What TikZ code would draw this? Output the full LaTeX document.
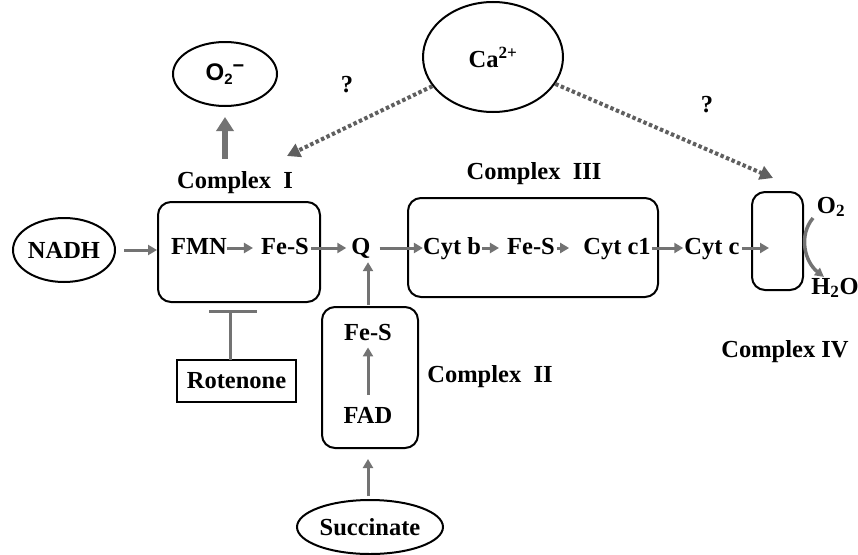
\documentclass[tikz,border=0pt]{standalone}
\usepackage{fontspec}
\setmainfont{Liberation Serif}
\setsansfont{Liberation Sans}
\usetikzlibrary{arrows.meta,shapes.geometric}
\definecolor{agray}{RGB}{115,115,115}
\definecolor{dgray}{RGB}{95,95,95}
\tikzset{
  txt/.style={inner sep=0pt, font=\fontsize{24.5}{28}\selectfont\bfseries},
  inl/.style={txt, anchor=base, text height=17pt, text depth=5pt},
  box/.style={draw, line width=2pt, rounded corners=13pt},
  oval/.style={draw, ellipse, line width=2pt, inner sep=0pt},
  arr/.style={draw=agray, line width=3pt, -{Triangle[length=9pt,width=10pt]}},
  dotarr/.style={draw=dgray, line width=4pt, dash pattern=on 3.5pt off 2.5pt, -{Triangle[length=13pt,width=14pt]}},
  bigarr/.style={draw=agray, line width=6pt, -{Triangle[length=14pt,width=17pt]}},
}
\begin{document}
\begin{tikzpicture}[x=1pt,y=-1pt]
\useasboundingbox (0,0) rectangle (858,554);
% ovals
\node[oval, minimum width=102pt, minimum height=64pt, txt] (nadh) at (64,250) {NADH};
\node[oval, minimum width=104pt, minimum height=64pt] (o2m) at (225,74)
  {\sffamily\bfseries\fontsize{24}{28}\selectfont O\raisebox{-0.35ex}{\fontsize{15}{16}\selectfont 2}\raisebox{0.6ex}{\fontsize{20}{20}\selectfont −}};
\node[oval, minimum width=140pt, minimum height=110pt, txt] (ca) at (493,57) {Ca\textsuperscript{2+}};
\node[oval, minimum width=146pt, minimum height=54pt, txt] (succ) at (370,527) {Succinate};
% boxes
\node[box, minimum width=162pt, minimum height=100pt] (c1) at (239,252) {};
\node[box, minimum width=250pt, minimum height=99pt] (c3) at (533,247.5) {};
\node[box, minimum width=51pt, minimum height=98pt] (c4) at (777.5,241) {};
\node[box, minimum width=96pt, minimum height=141pt] (c2) at (370,377.5) {};
\node[draw, line width=2pt, minimum width=119pt, minimum height=42pt, txt] (rot) at (236.5,381) {Rotenone};
% labels
\node[txt] (l1) at (235,183) {Complex\ \ I};
\node[txt] (l3) at (534,174) {Complex\ \ III};
\node[txt] (l2) at (490,377) {Complex\ \ II};
\node[txt] (l4) at (785,352) {Complex\ IV};
\node[txt] (qa) at (347,85) {?};
\node[txt] (qb) at (707,105) {?};
% inline texts
\node[inl] (fmn) at (199,254) {FMN};
\node[inl] (fes1) at (285,254) {Fe-S};
\node[inl] (q) at (361,254) {Q};
\node[inl] (cytb) at (452,254) {Cyt b};
\node[inl] (fes3) at (531,254) {Fe-S};
\node[inl] (cytc1) at (617,254) {Cyt c1};
\node[inl] (cytc) at (712,254) {Cyt c};
\node[txt] (fes2) at (368,333) {Fe-S};
\node[txt] (fad) at (368,415) {FAD};
\node[txt] (o2) at (831,207) {O\textsubscript{2}};
\node[txt] (h2o) at (835,288) {H\textsubscript{2}O};
% coordinates
\coordinate (tipL) at (287,156);
\coordinate (tipR) at (773,178);
\coordinate (inh) at (230,311);
\coordinate (inhs) at (230,360);
\coordinate (c4in) at (769,248);
% arrows
\draw[arr, shorten <=8pt] (nadh.east) -- (nadh.east -| c1.west);
\draw[arr, shorten >=8pt] (fmn.east) -- (fes1.west);
\draw[arr, shorten <=2pt, shorten >=5pt] (fes1.east) -- (q.west);
\draw[arr, shorten <=9pt] (q.east) -- (cytb.west);
\draw[arr, shorten <=1pt, shorten >=8pt] (cytb.east) -- (fes3.west);
\draw[arr, shorten <=2pt, shorten >=14pt] (fes3.east) -- (cytc1.west);
\draw[arr, shorten <=1pt, shorten >=1pt] (cytc1.east) -- (cytc.west);
\draw[arr, shorten <=2pt] (cytc.east) -- (c4in);
\draw[arr, shorten <=1pt, shorten >=3pt] (fes2 |- c2.north) -- (fes2 |- q.south);
\draw[arr, shorten <=12pt, shorten >=6pt] (fad.north) -- (fes2.south);
\draw[arr, shorten <=3pt, shorten >=10pt] (fes2 |- succ.north) -- (fes2 |- c2.south);
\draw[bigarr, shorten <=13pt, shorten >=10pt] (l1.north -| o2m.south) -- (o2m.south);
\draw[dotarr] (ca) -- (tipL);
\draw[dotarr] (ca) -- (tipR);
\draw[draw=agray, line width=3pt] (inhs) -- (inh);
\draw[draw=agray, line width=3pt] (209,311) -- (257,311);
\draw[draw=agray, line width=3.5pt, -{Triangle[length=9pt,width=9pt]}] (813,218) .. controls (798,236) and (805,262) .. (824,277);
\end{tikzpicture}
\end{document}
